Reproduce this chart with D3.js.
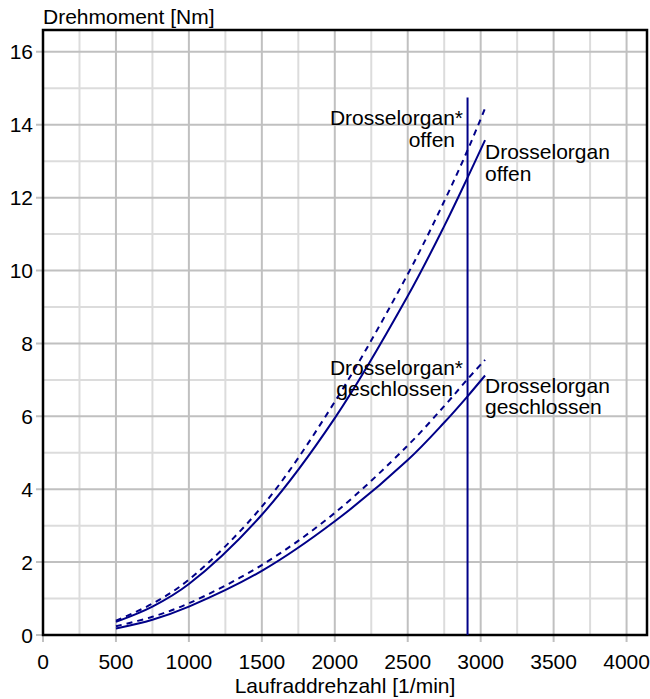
<!DOCTYPE html>
<html>
<head>
<meta charset="utf-8">
<script src="https://cdn.jsdelivr.net/npm/d3@7"></script>
<style>
  body { margin: 0; background: #fff; }
  text { font-family: "Liberation Sans", Arial, sans-serif; fill: #000; }
</style>
</head>
<body>
<script>
// Drehmoment ueber Laufraddrehzahl
var speed = [500, 750, 1000, 1500, 2000, 2500, 2750, 2910, 3030];
var openSolid = [0.36, 0.78, 1.4, 3.3, 5.95, 9.3, 11.22, 12.55, 13.58];
var openDashed = [0.39, 0.86, 1.52, 3.52, 6.4, 9.9, 11.9, 13.3, 14.45];
var closedSolid = [0.18, 0.42, 0.78, 1.76, 3.12, 4.8, 5.83, 6.55, 7.12];
var closedDashed = [0.24, 0.5, 0.87, 1.92, 3.35, 5.2, 6.28, 7.02, 7.55];
var limitSpeed = 2910;
var limitTop = 14.75;

var xTicks = [0, 500, 1000, 1500, 2000, 2500, 3000, 3500, 4000];
var yTicks = [0, 2, 4, 6, 8, 10, 12, 14, 16];

var width = 650, height = 699;
var plotLeft = 43, plotRight = 647, plotTop = 30, plotBottom = 635;
var lineColor = "#000088";
var fontSize = "21px";

var svg = d3.select("body").append("svg")
    .attr("width", width)
    .attr("height", height);

var x = d3.scaleLinear().domain([0, 4140]).range([plotLeft, plotRight]);
var y = d3.scaleLinear().domain([0, 16.6]).range([plotBottom, plotTop]);

// grid - minor first, then major
var xMinor = d3.range(250, 4140, 500);
var yMinor = d3.range(1, 16.6, 2);

svg.append("g").selectAll("line").data(xMinor).enter().append("line")
    .attr("x1", function(d) {return x(d);}).attr("x2", function(d) {return x(d);})
    .attr("y1", plotTop).attr("y2", plotBottom)
    .attr("stroke", "#dcdcdc").attr("stroke-width", 2);
svg.append("g").selectAll("line").data(yMinor).enter().append("line")
    .attr("x1", plotLeft).attr("x2", plotRight)
    .attr("y1", function(d) {return y(d);}).attr("y2", function(d) {return y(d);})
    .attr("stroke", "#dcdcdc").attr("stroke-width", 2);

svg.append("g").selectAll("line").data(xTicks).enter().append("line")
    .attr("x1", function(d) {return x(d);}).attr("x2", function(d) {return x(d);})
    .attr("y1", plotTop).attr("y2", plotBottom + 7)
    .attr("stroke", "#c0c0c0").attr("stroke-width", 2);
svg.append("g").selectAll("line").data(yTicks).enter().append("line")
    .attr("x1", plotLeft - 7).attr("x2", plotRight)
    .attr("y1", function(d) {return y(d);}).attr("y2", function(d) {return y(d);})
    .attr("stroke", "#c0c0c0").attr("stroke-width", 2);

// frame
svg.append("rect")
    .attr("x", plotLeft).attr("y", plotTop)
    .attr("width", plotRight - plotLeft).attr("height", plotBottom - plotTop)
    .attr("fill", "none").attr("stroke", "#000").attr("stroke-width", 2.5);

// tick labels
svg.append("g").selectAll("text").data(xTicks).enter().append("text")
    .attr("x", function(d) {return x(d);})
    .attr("y", 669)
    .attr("text-anchor", "middle")
    .style("font-size", fontSize)
    .text(function(d) {return d;});
svg.append("g").selectAll("text").data(yTicks).enter().append("text")
    .attr("x", 33)
    .attr("y", function(d) {return y(d) + 7.5;})
    .attr("text-anchor", "end")
    .style("font-size", fontSize)
    .text(function(d) {return d;});

// axis titles
svg.append("text").attr("x", plotLeft).attr("y", 24)
    .style("font-size", fontSize).text("Drehmoment [Nm]");
svg.append("text").attr("x", 345).attr("y", 693)
    .attr("text-anchor", "middle")
    .style("font-size", fontSize).text("Laufraddrehzahl [1/min]");

// curves
var series = [
    {values: openDashed, dash: "6,5"},
    {values: openSolid, dash: null},
    {values: closedDashed, dash: "6,5"},
    {values: closedSolid, dash: null}
];

var line = d3.line()
    .x(function(d) {return x(d[0]);})
    .y(function(d) {return y(d[1]);})
    .curve(d3.curveCatmullRom.alpha(0.5));

svg.append("g").selectAll("path").data(series).enter().append("path")
    .attr("d", function(s) {return line(d3.zip(speed, s.values));})
    .attr("fill", "none")
    .attr("stroke", lineColor)
    .attr("stroke-width", 2)
    .attr("stroke-dasharray", function(s) {return s.dash;});

// limit line
svg.append("line")
    .attr("x1", x(limitSpeed)).attr("x2", x(limitSpeed))
    .attr("y1", y(0)).attr("y2", y(limitTop))
    .attr("stroke", lineColor).attr("stroke-width", 2);

// labels
var labels = [
    {t: "Drosselorgan*", x: 463, y: 125, a: "end"},
    {t: "offen", x: 455, y: 147, a: "end"},
    {t: "Drosselorgan", x: 485, y: 159, a: "start"},
    {t: "offen", x: 485, y: 181, a: "start"},
    {t: "Drosselorgan*", x: 463, y: 375, a: "end"},
    {t: "geschlossen", x: 453, y: 396, a: "end"},
    {t: "Drosselorgan", x: 485, y: 393, a: "start"},
    {t: "geschlossen", x: 485, y: 414, a: "start"}
];
svg.append("g").selectAll("text").data(labels).enter().append("text")
    .attr("x", function(d) {return d.x;})
    .attr("y", function(d) {return d.y;})
    .attr("text-anchor", function(d) {return d.a;})
    .style("font-size", fontSize)
    .text(function(d) {return d.t;});
</script>
</body>
</html>
